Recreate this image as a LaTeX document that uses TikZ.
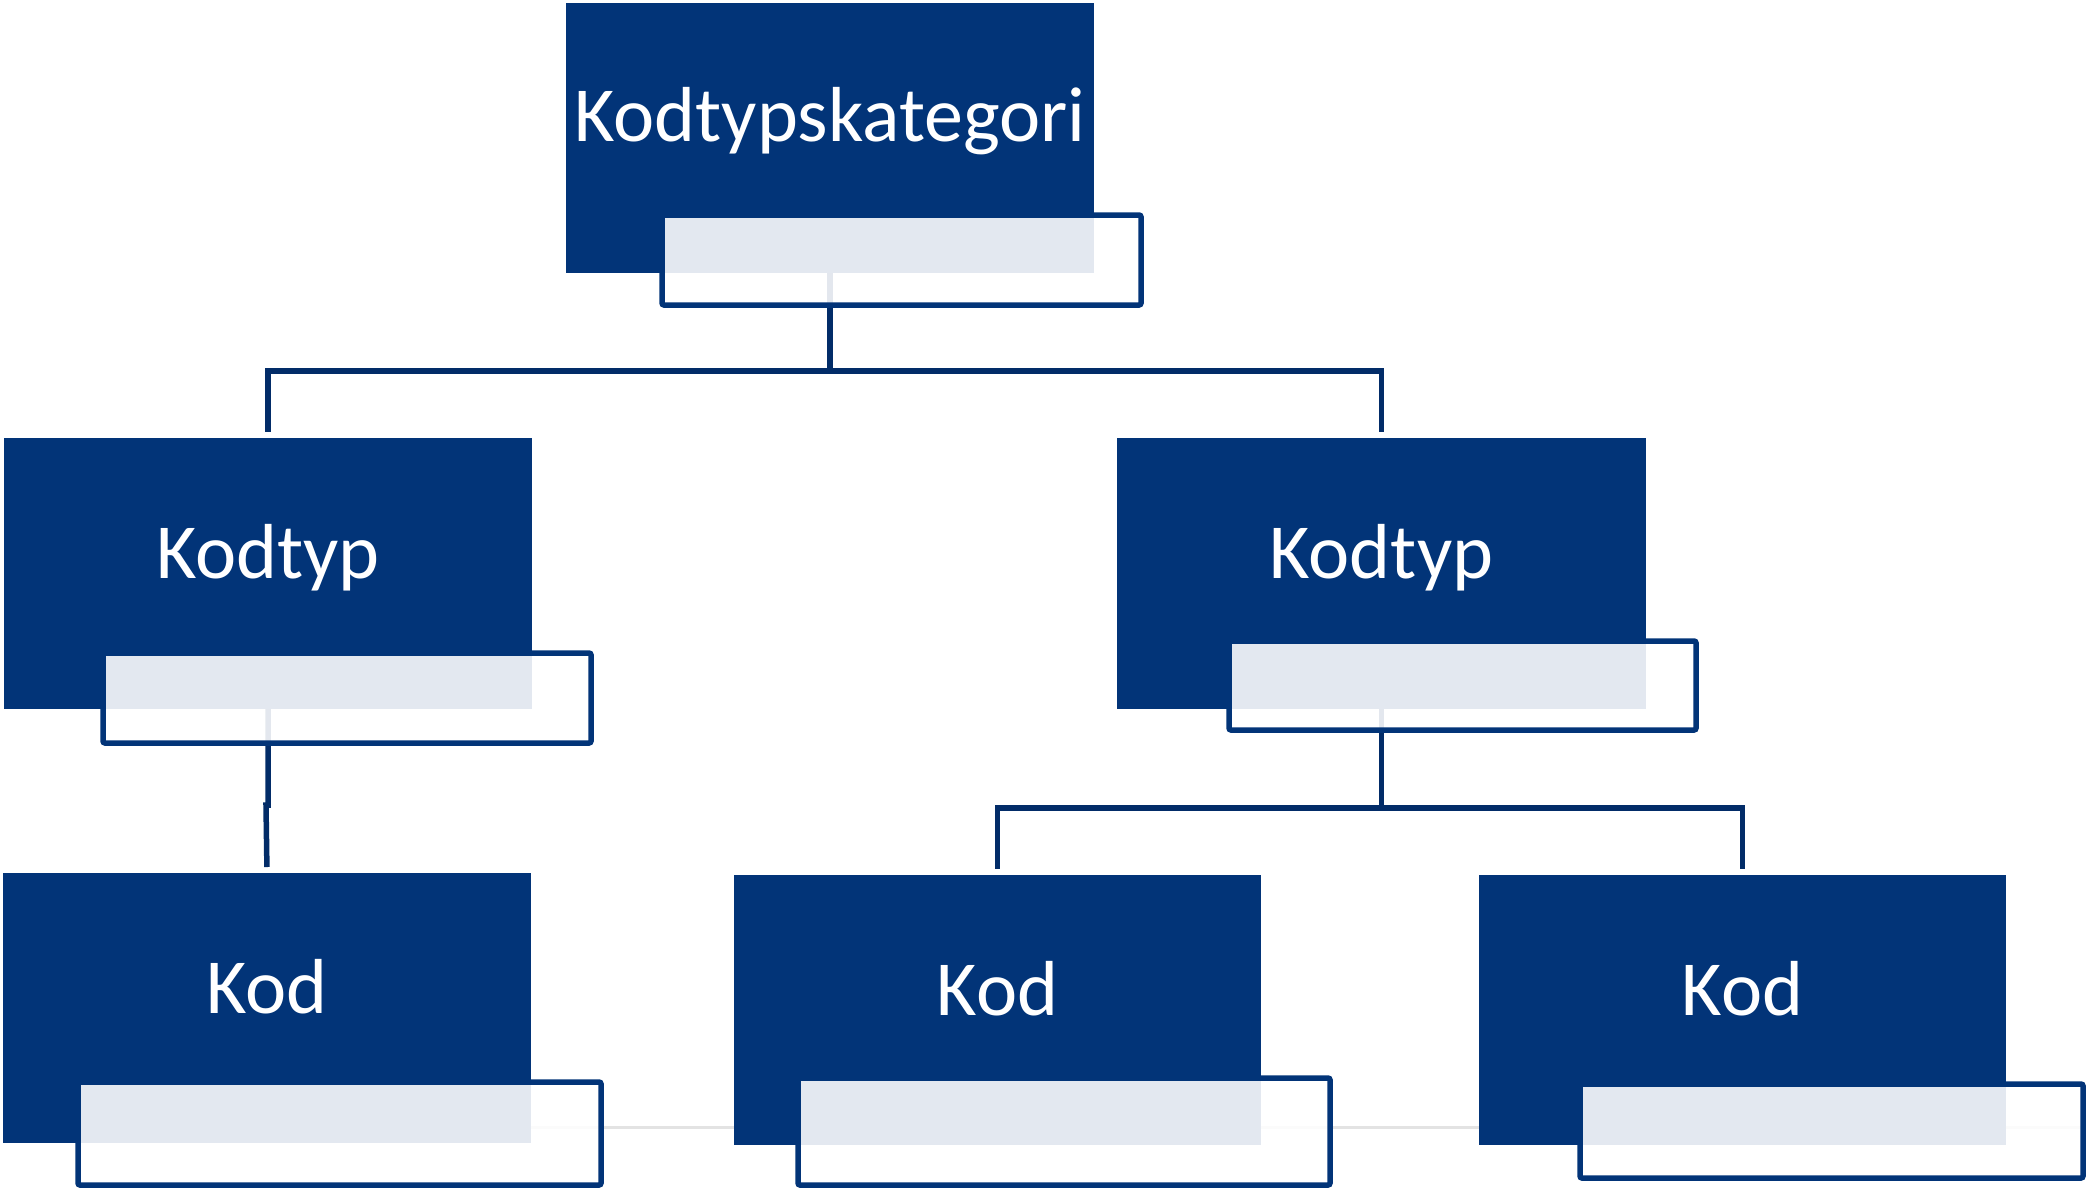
\documentclass[tikz,border=0pt]{standalone}
\usepackage{fontspec}
\setmainfont{Carlito}
\definecolor{navy}{RGB}{2,52,120}
\definecolor{navyline}{RGB}{2,44,104}

\begin{document}
\begin{tikzpicture}[x=1pt,y=-1pt,
	darkbox/.style={fill=navy,draw=none,inner sep=0pt,outer sep=0pt,anchor=north west},
	framebox/.style={draw=navy,line width=5.5pt,fill=white,fill opacity=0.89,rounded corners=2pt,inner sep=0pt,outer sep=0pt,anchor=north west},
	conn/.style={draw=navyline,line width=5.5pt,shorten >=6pt},
	faint/.style={draw=black!11,line width=3pt},
	txt/.style={text=white,font=\fontsize{78}{82}\selectfont,anchor=base,inner sep=0pt}]
						\useasboundingbox (0,0) rectangle (2086,1189);
						% dark boxes
						\node[darkbox,minimum width=528pt,minimum height=270pt] (kat) at (566,3) {};
						\node[darkbox,minimum width=528pt,minimum height=271pt] (typV) at (4,438) {};
						\node[darkbox,minimum width=529pt,minimum height=271pt] (typH) at (1117,438) {};
						\node[darkbox,minimum width=528pt,minimum height=270pt] (kodV) at (3,873) {};
						\node[darkbox,minimum width=527pt,minimum height=270pt] (kodM) at (734,875) {};
						\node[darkbox,minimum width=527pt,minimum height=270pt] (kodH) at (1479,875) {};
						% faint line behind the bottom row
						\coordinate (faintY) at (0,1127);
						\coordinate (faintEnd) at (2086,1127);
						\draw[faint] (kodV.east |- faintY)--(kodM.west |- faintY);
						\draw[faint] (kodM.east |- faintY)--(kodH.west |- faintY);
						\draw[faint] (kodH.east |- faintY)--(faintEnd);
						% connectors
						\draw[conn] (kat.south)--++(0,98)-|(typV.north);
						\draw[conn] (kat.south)--++(0,98)-|(typH.north);
						\draw[conn] (typV.south)--++(0,96)--++(-2,0)--(kodV.north);
						\draw[conn] (typH.south)--++(0,99)-|(kodM.north);
						\draw[conn] (typH.south)--++(0,99)-|(kodH.north);
						% frames
						\node[framebox,minimum width=479pt,minimum height=90pt] (katRam) at (662,215) {};
						\node[framebox,minimum width=488pt,minimum height=90pt] (typVRam) at (103,653) {};
						\node[framebox,minimum width=467pt,minimum height=89pt] (typHRam) at (1229,641) {};
						\node[framebox,minimum width=523pt,minimum height=103pt] (kodVRam) at (78,1082) {};
						\node[framebox,minimum width=532pt,minimum height=107pt] (kodMRam) at (798,1078) {};
						\node[framebox,minimum width=503pt,minimum height=94pt] (kodHRam) at (1580,1084) {};
						% texts
						\node[txt] (katT) at ([yshift=-138pt]kat.north) {Kodtypskategori};
						\node[txt] (typVT) at ([yshift=-140pt]typV.north) {Kodtyp};
						\node[txt] (typHT) at ([yshift=-140pt]typH.north) {Kodtyp};
						\node[txt] (kodVT) at ([yshift=-140pt]kodV.north) {Kod};
						\node[txt] (kodMT) at ([yshift=-140pt]kodM.north) {Kod};
						\node[txt] (kodHT) at ([yshift=-140pt]kodH.north) {Kod};
					\end{tikzpicture}
\end{document}
